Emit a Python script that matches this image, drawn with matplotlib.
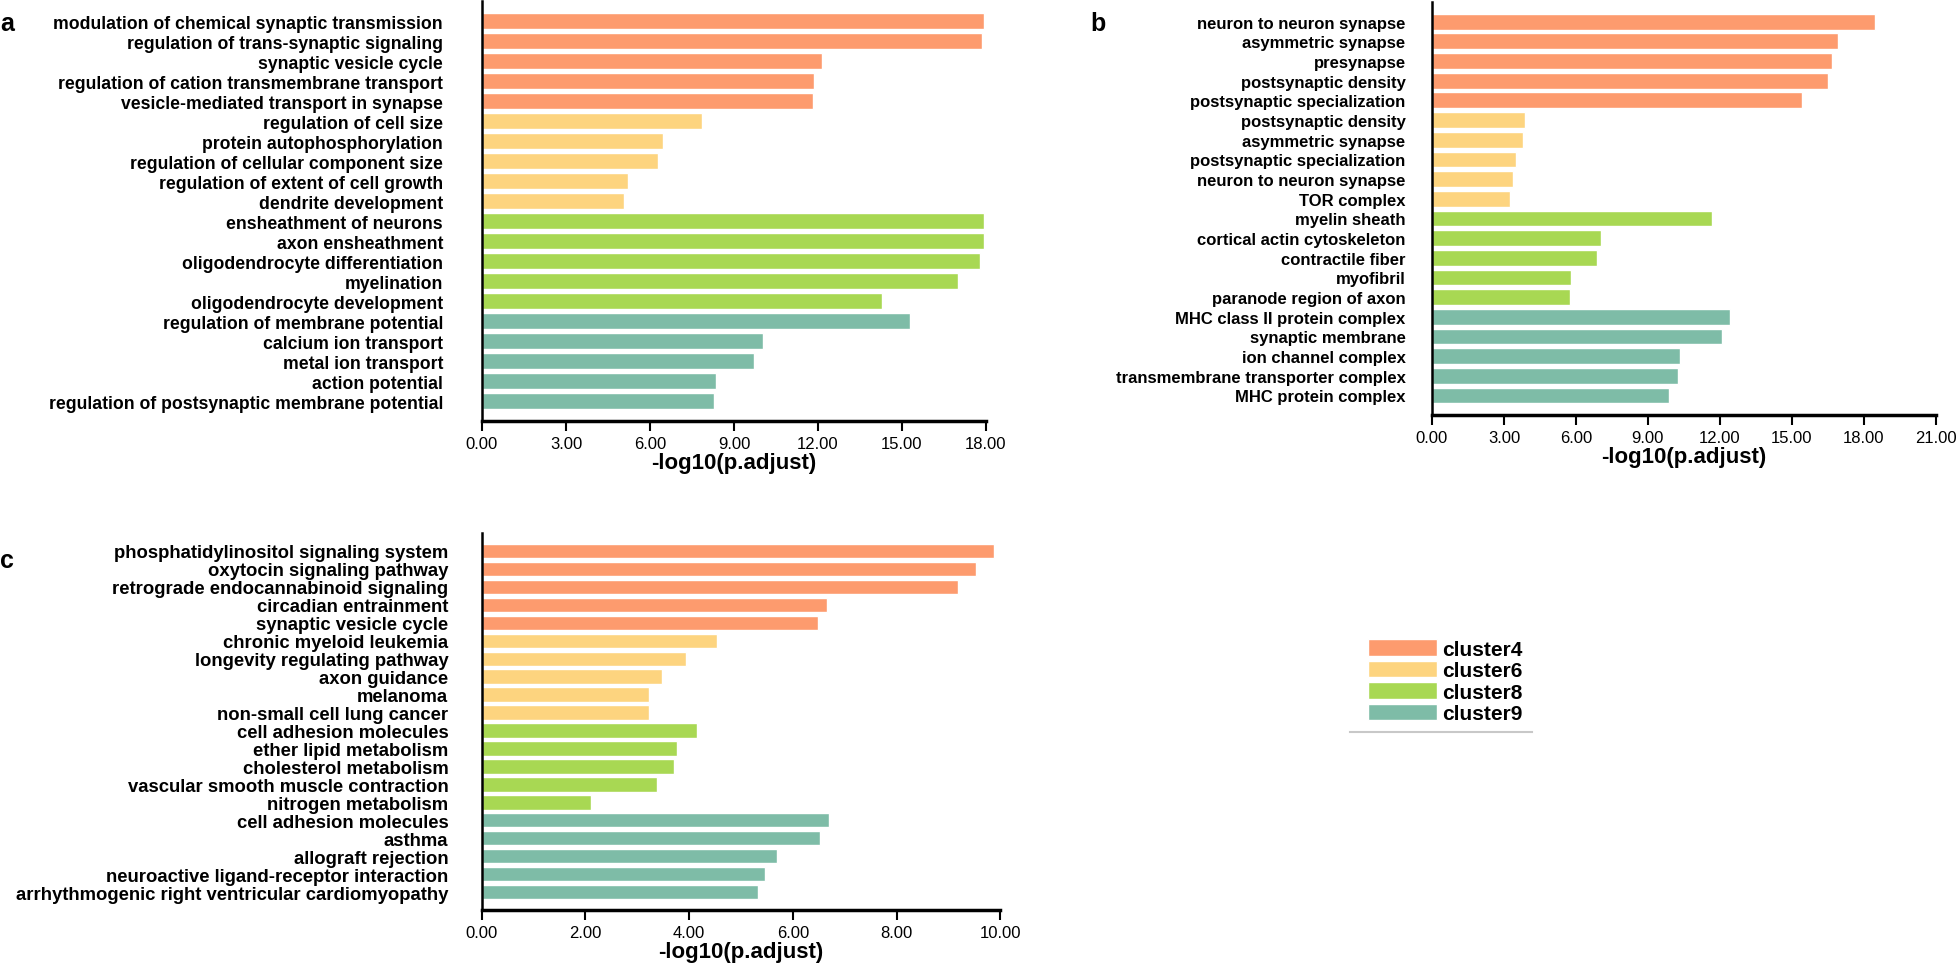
import matplotlib
matplotlib.use('Agg')
import matplotlib.pyplot as plt
from matplotlib.patches import Patch
from matplotlib.lines import Line2D

plt.rcParams['font.family'] = ['Liberation Sans', 'DejaVu Sans']

clusters = ['cluster4', 'cluster6', 'cluster8', 'cluster9']
cluster_colors = ['#FD9B6E', '#FDD47F', '#A8D853', '#7EBCA7']

# panel a: GO biological process
terms_a = ['modulation of chemical synaptic transmission', 'regulation of trans-synaptic signaling',
           'synaptic vesicle cycle', 'regulation of cation transmembrane transport',
           'vesicle-mediated transport in synapse',
           'regulation of cell size', 'protein autophosphorylation', 'regulation of cellular component size',
           'regulation of extent of cell growth', 'dendrite development',
           'ensheathment of neurons', 'axon ensheathment', 'oligodendrocyte differentiation',
           'myelination', 'oligodendrocyte development',
           'regulation of membrane potential', 'calcium ion transport', 'metal ion transport',
           'action potential', 'regulation of postsynaptic membrane potential']
values_a = [17.92, 17.87, 12.13, 11.86, 11.81,
            7.86, 6.47, 6.30, 5.23, 5.07,
            17.93, 17.93, 17.80, 17.00, 14.27,
            15.27, 10.04, 9.72, 8.35, 8.30]

# panel b: GO cellular component
terms_b = ['neuron to neuron synapse', 'asymmetric synapse', 'presynapse', 'postsynaptic density',
           'postsynaptic specialization',
           'postsynaptic density', 'asymmetric synapse', 'postsynaptic specialization',
           'neuron to neuron synapse', 'TOR complex',
           'myelin sheath', 'cortical actin cytoskeleton', 'contractile fiber', 'myofibril',
           'paranode region of axon',
           'MHC class II protein complex', 'synaptic membrane', 'ion channel complex',
           'transmembrane transporter complex', 'MHC protein complex']
values_b = [18.48, 16.95, 16.70, 16.53, 15.43,
            3.89, 3.78, 3.52, 3.38, 3.24,
            11.67, 7.03, 6.89, 5.79, 5.74,
            12.41, 12.10, 10.36, 10.27, 9.88]

# panel c: KEGG
terms_c = ['phosphatidylinositol signaling system', 'oxytocin signaling pathway',
           'retrograde endocannabinoid signaling', 'circadian entrainment', 'synaptic vesicle cycle',
           'chronic myeloid leukemia', 'longevity regulating pathway', 'axon guidance', 'melanoma',
           'non-small cell lung cancer',
           'cell adhesion molecules', 'ether lipid metabolism', 'cholesterol metabolism',
           'vascular smooth muscle contraction', 'nitrogen metabolism',
           'cell adhesion molecules', 'asthma', 'allograft rejection',
           'neuroactive ligand-receptor interaction', 'arrhythmogenic right ventricular cardiomyopathy']
values_c = [9.87, 9.53, 9.18, 6.65, 6.49,
            4.53, 3.94, 3.48, 3.22, 3.22,
            4.16, 3.77, 3.71, 3.37, 2.11,
            6.69, 6.52, 5.69, 5.47, 5.33]

group_size = 5

W, H = 1958, 970
fig = plt.figure(figsize=(W / 100, H / 100), dpi=100)


def panel(rect, terms, values, xmax, step, letter, letter_xy, pad, label_size):
    ax = fig.add_axes(rect)
    colors = [cluster_colors[i // group_size] for i in range(len(terms))]
    ax.barh(range(len(terms)), values, height=0.8, color=colors,
            edgecolor='white', linewidth=1.0)
    ax.set_yticks(range(len(terms)))
    ax.set_yticklabels(terms, fontsize=label_size, fontweight='bold')
    ax.set_ylim(19.98, -1.0)
    ax.set_xlim(0, xmax)
    ticks = [step * i for i in range(int(round(xmax / step)) + 1)]
    ax.set_xticks(ticks)
    ax.set_xticklabels(['%.2f' % t for t in ticks], fontsize=12)
    ax.tick_params(axis='y', length=0, pad=pad)
    ax.tick_params(axis='x', length=7, width=1.5, pad=4)
    for s in ['top', 'right']:
        ax.spines[s].set_visible(False)
    ax.spines['left'].set_linewidth(1.8)
    ax.spines['bottom'].set_linewidth(2.5)
    ax.set_xlabel('-log10(p.adjust)', fontsize=16, fontweight='bold', labelpad=1)
    fig.text(letter_xy[0] / W, 1 - letter_xy[1] / H, letter, fontsize=18,
             fontweight='bold', ha='left', va='center')
    return ax


panel([482 / W, 1 - 421.7 / H, 504 / W, 419.7 / H], terms_a, values_a, 18, 3, 'a', (0, 24), 28, 12.7)
panel([1432 / W, 1 - 415.7 / H, 503.6 / W, 412.7 / H], terms_b, values_b, 21, 3, 'b', (1090, 24), 19, 12)
panel([481.7 / W, 1 - 910.7 / H, 518.7 / W, 376.7 / H], terms_c, values_c, 10, 2, 'c', (0, 561), 24, 13.3)

handles = [Patch(facecolor=c, edgecolor='white', linewidth=1) for c in cluster_colors]
fig.legend(handles, clusters, loc='upper left', bbox_to_anchor=(1368 / W, 1 - 640 / H),
           frameon=False, borderpad=0, borderaxespad=0, handlelength=3.3, handleheight=0.85,
           handletextpad=0.25, labelspacing=0.1, prop={'size': 15, 'weight': 'bold'})
fig.add_artist(Line2D([1350 / W, 1532 / W], [1 - 733 / H, 1 - 733 / H],
                      color='#c8c8c8', linewidth=1.5, transform=fig.transFigure))

fig.savefig('out.png', dpi=100)
